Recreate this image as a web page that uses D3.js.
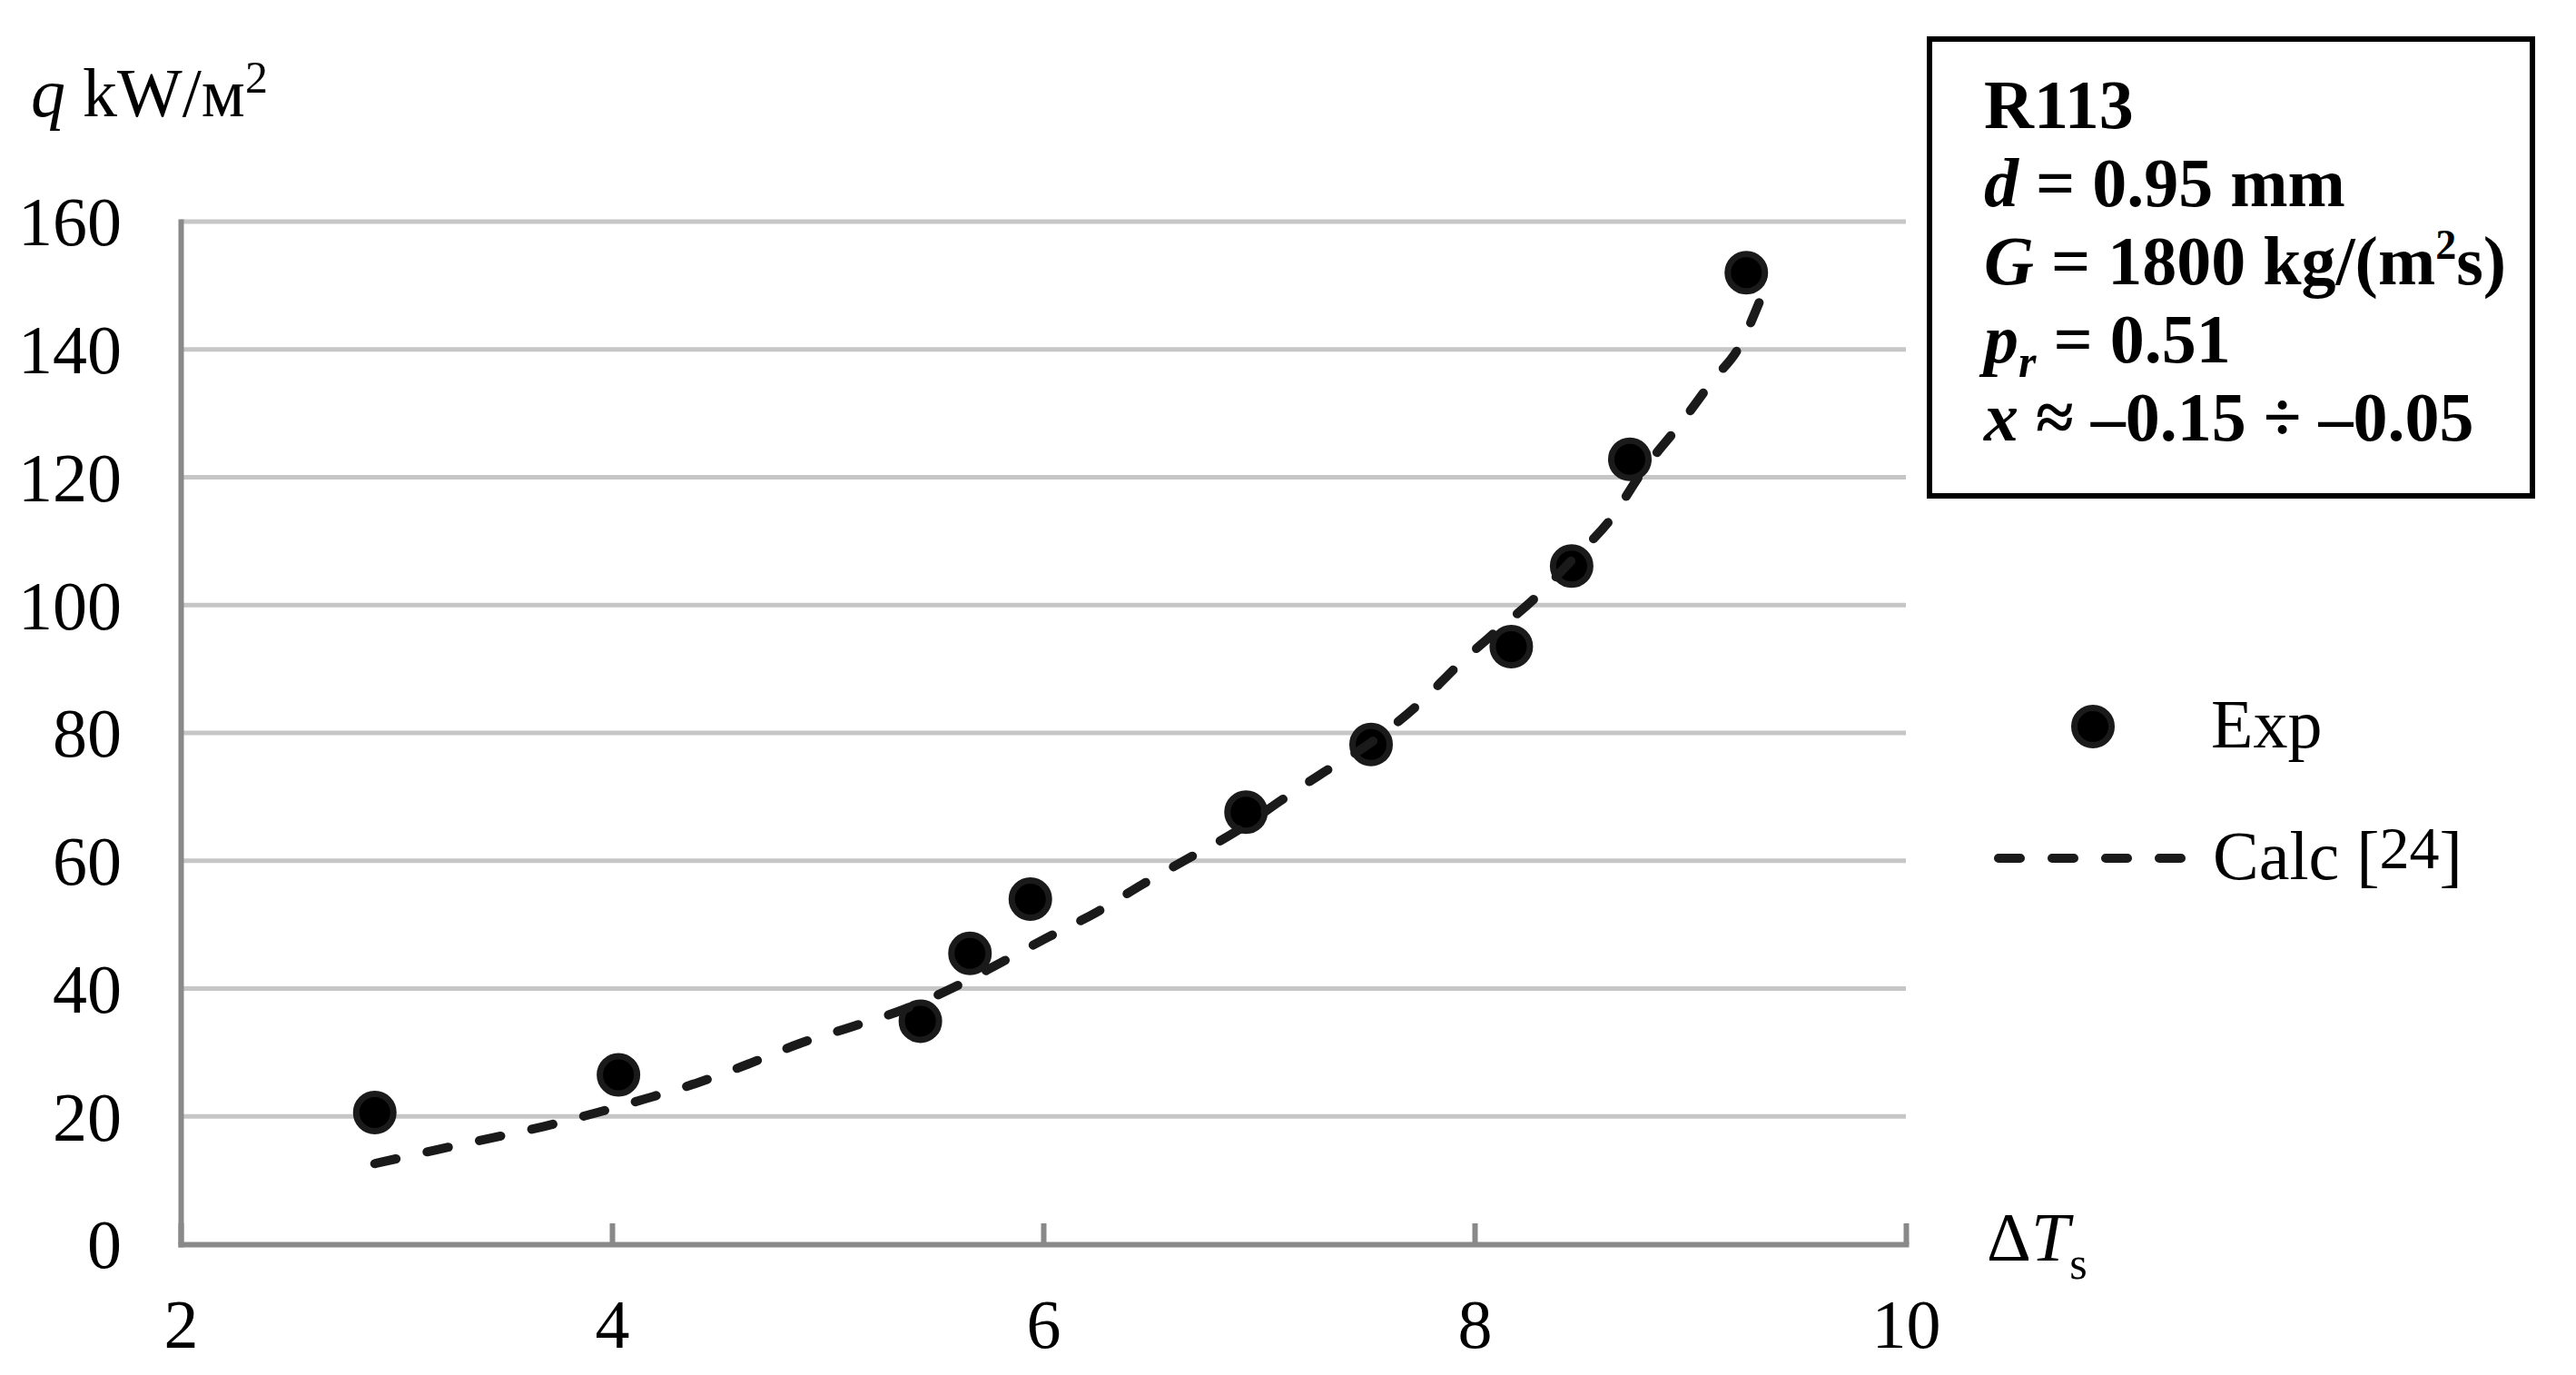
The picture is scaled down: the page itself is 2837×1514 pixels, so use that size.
<!DOCTYPE html>
<html>
<head>
<meta charset="utf-8">
<script src="https://cdn.jsdelivr.net/npm/d3@7"></script>
<style>
  html, body { margin: 0; padding: 0; background: #fff; }
  svg text { font-family: "Liberation Serif", "Times New Roman", serif; fill: #000; }
</style>
</head>
<body>
<div id="chart"></div>
<script>
const expX = [2.90, 4.03, 5.43, 5.66, 5.94, 6.94, 7.52, 8.17, 8.45, 8.72, 9.26];
const expY = [20.6, 26.5, 34.9, 45.5, 54.0, 67.6, 78.2, 93.5, 106.1, 122.8, 152.0];

// calculation [24], dashed curve
const calcX = [2.90, 3.19, 3.44, 3.68, 3.92, 4.16, 4.40, 4.64, 4.87, 5.11, 5.35, 5.58, 5.80, 6.02, 6.25, 6.46, 6.68, 6.89, 7.11, 7.28, 7.52, 7.75, 7.93, 8.09, 8.28, 8.45, 8.63, 8.78, 8.96, 9.11, 9.22, 9.33];
const calcY = [12.6, 14.8, 16.6, 18.4, 20.5, 22.8, 25.3, 28.3, 31.4, 34.0, 36.7, 40.1, 44.0, 48.0, 52.0, 56.3, 60.5, 64.5, 69.6, 73.4, 78.5, 84.8, 90.8, 95.6, 101.1, 107.0, 113.4, 121.0, 128.6, 135.4, 140.0, 148.2];

const xTicks = [2, 4, 6, 8, 10];
const yTicks = [0, 20, 40, 60, 80, 100, 120, 140, 160];

const infoLines = [
  [{t: 'R113'}],
  [{t: 'd', i: true}, {t: ' = 0.95 mm'}],
  [{t: 'G', i: true}, {t: ' = 1800 kg/(m'}, {t: '2', sup: true}, {t: 's)'}],
  [{t: 'p', i: true}, {t: 'r', i: true, sub: true}, {t: ' = 0.51'}],
  [{t: 'x', i: true}, {t: ' ≈ –0.15 ÷ –0.05'}]
];

const W = 2837, H = 1514;
const fs = 76;
const axisColor = '#898989';

const svg = d3.select('#chart').append('svg')
  .attr('width', W)
  .attr('height', H)
  .attr('viewBox', `0 0 ${W} ${H}`);

svg.append('rect').attr('width', W).attr('height', H).attr('fill', '#fff');

const x = d3.scaleLinear().domain([2, 10]).range([199, 2099]);
const y = d3.scaleLinear().domain([0, 160]).range([1370, 244]);

// gridlines
svg.append('g').attr('class', 'grid')
  .selectAll('line')
  .data(yTicks.filter(d => d > 0))
  .join('line')
  .attr('x1', x(2)).attr('x2', x(10))
  .attr('y1', d => y(d)).attr('y2', d => y(d))
  .attr('stroke', '#c6c6c6')
  .attr('stroke-width', 5);

// x axis, ticks pointing up
const xAxis = svg.append('g')
  .attr('transform', `translate(0,${y(0)})`)
  .call(d3.axisBottom(x).tickValues(xTicks).tickFormat(d3.format('d'))
    .tickSizeInner(-23).tickSizeOuter(0).tickPadding(60));

// y axis, no tick marks
const yAxis = svg.append('g')
  .attr('transform', `translate(${x(2)},0)`)
  .call(d3.axisLeft(y).tickValues(yTicks).tickSize(0).tickPadding(65));

[xAxis, yAxis].forEach(g => {
  g.select('.domain').attr('stroke', axisColor).attr('stroke-width', 6).attr('stroke-linecap', 'square');
  g.selectAll('.tick line').attr('stroke', axisColor).attr('stroke-width', 6);
  g.selectAll('.tick text')
    .attr('font-family', '"Liberation Serif", "Times New Roman", serif')
    .attr('font-size', fs)
    .attr('fill', '#000');
});
yAxis.selectAll('.tick text').attr('dy', '0.34em');

// axis titles
const yTitle = svg.append('text')
  .attr('x', 34).attr('y', 128)
  .attr('font-size', fs);
yTitle.append('tspan').attr('font-style', 'italic').text('q');
yTitle.append('tspan').text(' kW/м');
yTitle.append('tspan').attr('font-size', 50).attr('dy', -26).text('2');

const xTitle = svg.append('text')
  .attr('x', 2188).attr('y', 1388)
  .attr('font-size', fs);
xTitle.append('tspan').text('Δ');
xTitle.append('tspan').attr('font-style', 'italic').text('T');
xTitle.append('tspan').attr('font-size', 50).attr('dy', 20).text('s');

// experimental points
const pts = expX.map((d, i) => ({x: d, y: expY[i]}));
svg.append('g')
  .selectAll('circle')
  .data(pts)
  .join('circle')
  .attr('cx', d => x(d.x))
  .attr('cy', d => y(d.y))
  .attr('r', 20.5)
  .attr('fill', '#000')
  .attr('stroke', '#1a1a1a')
  .attr('stroke-width', 7);

// calc curve
const calc = calcX.map((d, i) => ({x: d, y: calcY[i]}));
const line = d3.line().x(d => x(d.x)).y(d => y(d.y)).curve(d3.curveMonotoneX);
svg.append('path')
  .datum(calc)
  .attr('d', line)
  .attr('fill', 'none')
  .attr('stroke', '#1a1a1a')
  .attr('stroke-width', 10)
  .attr('stroke-linecap', 'round')
  .attr('stroke-dasharray', '24 35');

// legend
const lg = svg.append('g');
lg.append('circle')
  .attr('cx', 2305).attr('cy', 800).attr('r', 20.5)
  .attr('fill', '#000').attr('stroke', '#1a1a1a').attr('stroke-width', 7);
lg.append('text').attr('x', 2435).attr('y', 823).attr('font-size', fs).text('Exp');
lg.append('line')
  .attr('x1', 2201).attr('x2', 2404).attr('y1', 945).attr('y2', 945)
  .attr('stroke', '#1a1a1a').attr('stroke-width', 10)
  .attr('stroke-linecap', 'round').attr('stroke-dasharray', '24 35');
const calcLabel = lg.append('text').attr('x', 2437).attr('y', 968).attr('font-size', fs);
calcLabel.append('tspan').text('Calc [');
calcLabel.append('tspan').attr('font-size', 66).attr('dy', -12).text('24');
calcLabel.append('tspan').attr('dy', 12).text(']');

// info box
svg.append('rect')
  .attr('x', 2125).attr('y', 43)
  .attr('width', 664).attr('height', 503)
  .attr('fill', '#fff').attr('stroke', '#000').attr('stroke-width', 6);

const info = svg.append('g').attr('font-weight', 'bold');
infoLines.forEach((parts, i) => {
  const t = info.append('text')
    .attr('x', 2185).attr('y', 141 + i * 86)
    .attr('font-size', fs).attr('font-weight', 'bold');
  parts.forEach(p => {
    const s = t.append('tspan').text(p.t);
    if (p.i) s.attr('font-style', 'italic');
    if (p.sup) s.attr('font-size', 46).attr('dy', -28);
    if (p.sub) s.attr('font-size', 50).attr('dy', 16);
    if (!p.sup && !p.sub && (parts.some(q => q.sup) || parts.some(q => q.sub))) {
      const prev = parts[parts.indexOf(p) - 1];
      if (prev && prev.sup) s.attr('dy', 28);
      if (prev && prev.sub) s.attr('dy', -16);
    }
  });
});
</script>
</body>
</html>
